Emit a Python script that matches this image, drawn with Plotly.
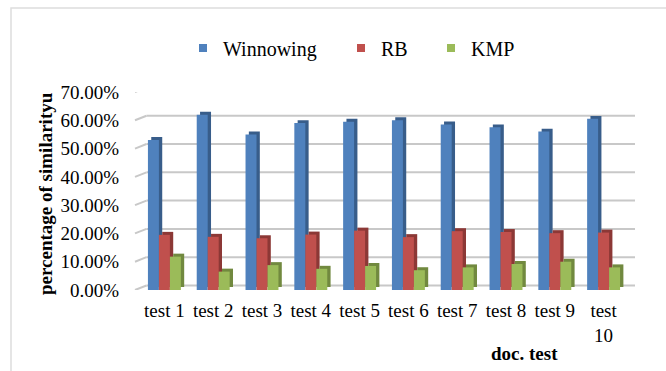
import plotly.graph_objects as go

# ---- data ----
categories = ["test 1", "test 2", "test 3", "test 4", "test 5",
              "test 6", "test 7", "test 8", "test 9", "test<br>10"]
winnowing = [0.530, 0.620, 0.550, 0.590, 0.595, 0.600, 0.585, 0.575, 0.560, 0.605]
rb = [0.195, 0.188, 0.183, 0.196, 0.210, 0.187, 0.208, 0.205, 0.201, 0.203]
kmp = [0.118, 0.065, 0.088, 0.075, 0.085, 0.070, 0.080, 0.092, 0.100, 0.080]
y_ticks = [0.0, 0.1, 0.2, 0.3, 0.4, 0.5, 0.6, 0.7]

series = [
    ("Winnowing", winnowing, "#4F81BD", "#385D8A"),
    ("RB", rb, "#C0504D", "#8C3836"),
    ("KMP", kmp, "#9BBB59", "#71893F"),
]

# ---- geometry (pixels) ----
W, H = 666, 371
L, R, T, B = 140, 38, 92, 81
PW, PH = W - L - R, H - T - B
YMAX = 0.7
FONT = "Liberation Serif, Times New Roman, serif"


def px_x(p):
    return (p - L) / PW


def px_y(p):
    return (H - B - p) / PH


bar_w = 0.225
dx = 0.068          # side face depth (category units)
dy = 0.0105         # top face depth (value units)
grid_dy = 0.016

fig = go.Figure()
for i, (name, vals, col, dark) in enumerate(series):
    off = -1.5 * bar_w + i * bar_w
    fig.add_trace(go.Bar(x=categories, y=vals, base=dy, offset=off + dx, width=bar_w,
                         marker=dict(color=dark, line=dict(width=0)),
                         showlegend=False, hoverinfo="skip"))
    fig.add_trace(go.Bar(x=categories, y=vals, offset=off, width=bar_w, name=name,
                         marker=dict(color=col, line=dict(width=0)),
                         showlegend=False))

# legend entries (small square markers)
legend_ids = ["legend", "legend2", "legend3"]
legend_x = [183, 341, 431]
for (name, vals, col, dark), lid in zip(series, legend_ids):
    fig.add_trace(go.Scatter(x=[None], y=[None], mode="markers", name=name,
                             marker=dict(symbol="square", size=8, color=col),
                             legend=lid, showlegend=True))

layout_legends = {}
for lid, lx in zip(legend_ids, legend_x):
    layout_legends[lid] = dict(orientation="h", xref="container", yref="container",
                               yanchor="middle", xanchor="left",
                               bgcolor="rgba(0,0,0,0)",
                               font=dict(family=FONT, size=20, color="#000000"),
                               itemwidth=30, x=lx / W, y=1 - 48 / H)

shapes = []
# back-wall gridlines with small perspective diagonal on the left
for t in y_ticks:
    shapes.append(dict(type="line", xref="paper", yref="y",
                       x0=px_x(146.5), x1=px_x(635), y0=t + grid_dy, y1=t + grid_dy,
                       line=dict(color="#C8C8C8", width=2), layer="below"))
    shapes.append(dict(type="line", xref="paper", yref="y",
                       x0=px_x(135), x1=px_x(146.5), y0=t, y1=t + grid_dy,
                       line=dict(color="#C8C8C8", width=2), layer="below"))
# chart frame
shapes.append(dict(type="rect", xref="paper", yref="paper",
                   x0=px_x(11), x1=px_x(700), y0=px_y(8), y1=px_y(400),
                   line=dict(color="#DDDDDD", width=1.5), layer="below"))

annotations = [
    dict(text="<b>percentage of similarityu</b>", textangle=-90,
         xref="paper", yref="paper", x=px_x(45.5), y=px_y(193.5),
         xanchor="center", yanchor="middle", showarrow=False,
         font=dict(family=FONT, size=19, color="#000000")),
    dict(text="<b>doc. test</b>", xref="paper", yref="paper",
         x=px_x(524), y=px_y(353), xanchor="center", yanchor="middle",
         showarrow=False, font=dict(family=FONT, size=19, color="#000000")),
]

fig.update_layout(
    width=W, height=H,
    margin=dict(l=L, r=R, t=T, b=B, pad=0, autoexpand=False),
    paper_bgcolor="white", plot_bgcolor="rgba(0,0,0,0)",
    barmode="overlay",
    font=dict(family=FONT, size=19, color="#000000"),
    shapes=shapes, annotations=annotations,
    **layout_legends,
)
fig.update_xaxes(showgrid=False, zeroline=False, showline=False,
                 tickfont=dict(family=FONT, size=19, color="#000000"),
                 ticks="outside", ticklen=3, tickcolor="rgba(0,0,0,0)")
fig.update_yaxes(range=[0, YMAX], tickvals=y_ticks, tickformat=".2%",
                 showgrid=False, zeroline=False, showline=False,
                 tickfont=dict(family=FONT, size=19, color="#000000"),
                 ticks="outside", ticklen=16, tickcolor="rgba(0,0,0,0)")

fig.write_html("out.html", config={"displayModeBar": False},
               post_script="document.body.style.margin='0';")
